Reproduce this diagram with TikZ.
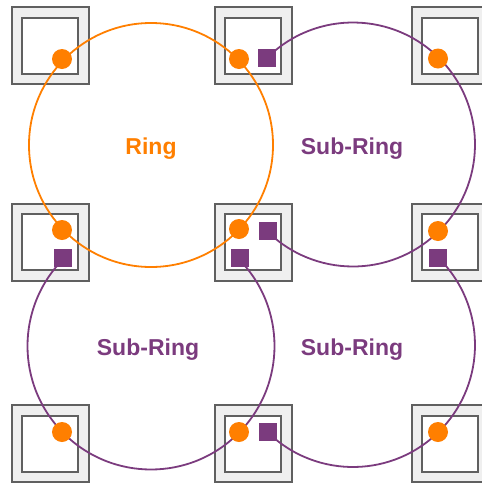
\documentclass[tikz,border=0pt]{standalone}
\usepackage{fontspec}
\setmainfont{Liberation Sans}
\definecolor{ringorange}{HTML}{FF7F00}
\definecolor{ringpurple}{HTML}{7B3B7E}
\definecolor{boxgray}{HTML}{606060}
\definecolor{boxfill}{HTML}{EFEFEF}
\begin{document}
\begin{tikzpicture}[x=1pt,y=-1pt,
  outerbox/.style={rectangle, draw=boxgray, line width=2pt, fill=boxfill, minimum size=77pt, inner sep=0pt},
  innerbox/.style={rectangle, draw=boxgray, line width=2pt, fill=white, minimum size=56pt, inner sep=0pt},
  nodedot/.style={circle, fill=ringorange, minimum size=20pt, inner sep=0pt},
  nodesq/.style={rectangle, fill=ringpurple, minimum size=18pt, inner sep=0pt},
  orangering/.style={draw=ringorange, line width=1.8pt},
  purplering/.style={draw=ringpurple, line width=1.8pt},
  ringlabel/.style={font=\fontsize{23}{26}\selectfont\bfseries, text=ringorange},
  subringlabel/.style={font=\fontsize{23}{26}\selectfont\bfseries, text=ringpurple}
]
\useasboundingbox (0,0) rectangle (482,483);
\clip (0,0) rectangle (482,483);

% boxes
\foreach \n/\x/\y in {a/50/45.5, b/253/45.5, c/450/45.5,
                      d/50/242, e/253/242, f/450/242,
                      g/50/443.5, h/253/443.5, i/450/443.5}{
  \node[outerbox] (o\n) at (\x,\y) {};
  \node[innerbox] (i\n) at (o\n.center) {};
}

% ring centres
\coordinate (cR)  at (151,145);
\coordinate (cTR) at (353,144.5);
\coordinate (cBL) at (151,346);
\coordinate (cBR) at (353,345);

% rings
\draw[orangering] (cR) circle[radius=122];
\draw[purplering] (cTR) ++(-134:122) arc[start angle=-134, end angle=135, radius=122];
\draw[purplering] (cBL) ++(225:123.5) arc[start angle=225, end angle=-45, radius=123.5];
\draw[purplering] (cBR) ++(134:122) arc[start angle=134, end angle=-45, radius=122];

% ring nodes
\node[nodedot] (da) at (62,59) {};
\node[nodedot] (db) at (239,59) {};
\node[nodesq]  (sb) at (267,57.5) {};
\node[nodedot] (dc) at (438,58.5) {};
\node[nodedot] (dd) at (62,230) {};
\node[nodesq]  (sd) at (63,258) {};
\node[nodedot] (de) at (239,229) {};
\node[nodesq]  (se1) at (268,231) {};
\node[nodesq]  (se2) at (240,258) {};
\node[nodedot] (df) at (438,231) {};
\node[nodesq]  (sf) at (438,258) {};
\node[nodedot] (dg) at (62,432) {};
\node[nodedot] (dh) at (239,432) {};
\node[nodesq]  (sh) at (268,432) {};
\node[nodedot] (di) at (438,432) {};

% labels
\node[ringlabel] (lR) at (151,149) {Ring};
\node[subringlabel] (lTR) at (352,149) {Sub-Ring};
\node[subringlabel] (lBL) at (148,350) {Sub-Ring};
\node[subringlabel] (lBR) at (352,350) {Sub-Ring};
\end{tikzpicture}
\end{document}
